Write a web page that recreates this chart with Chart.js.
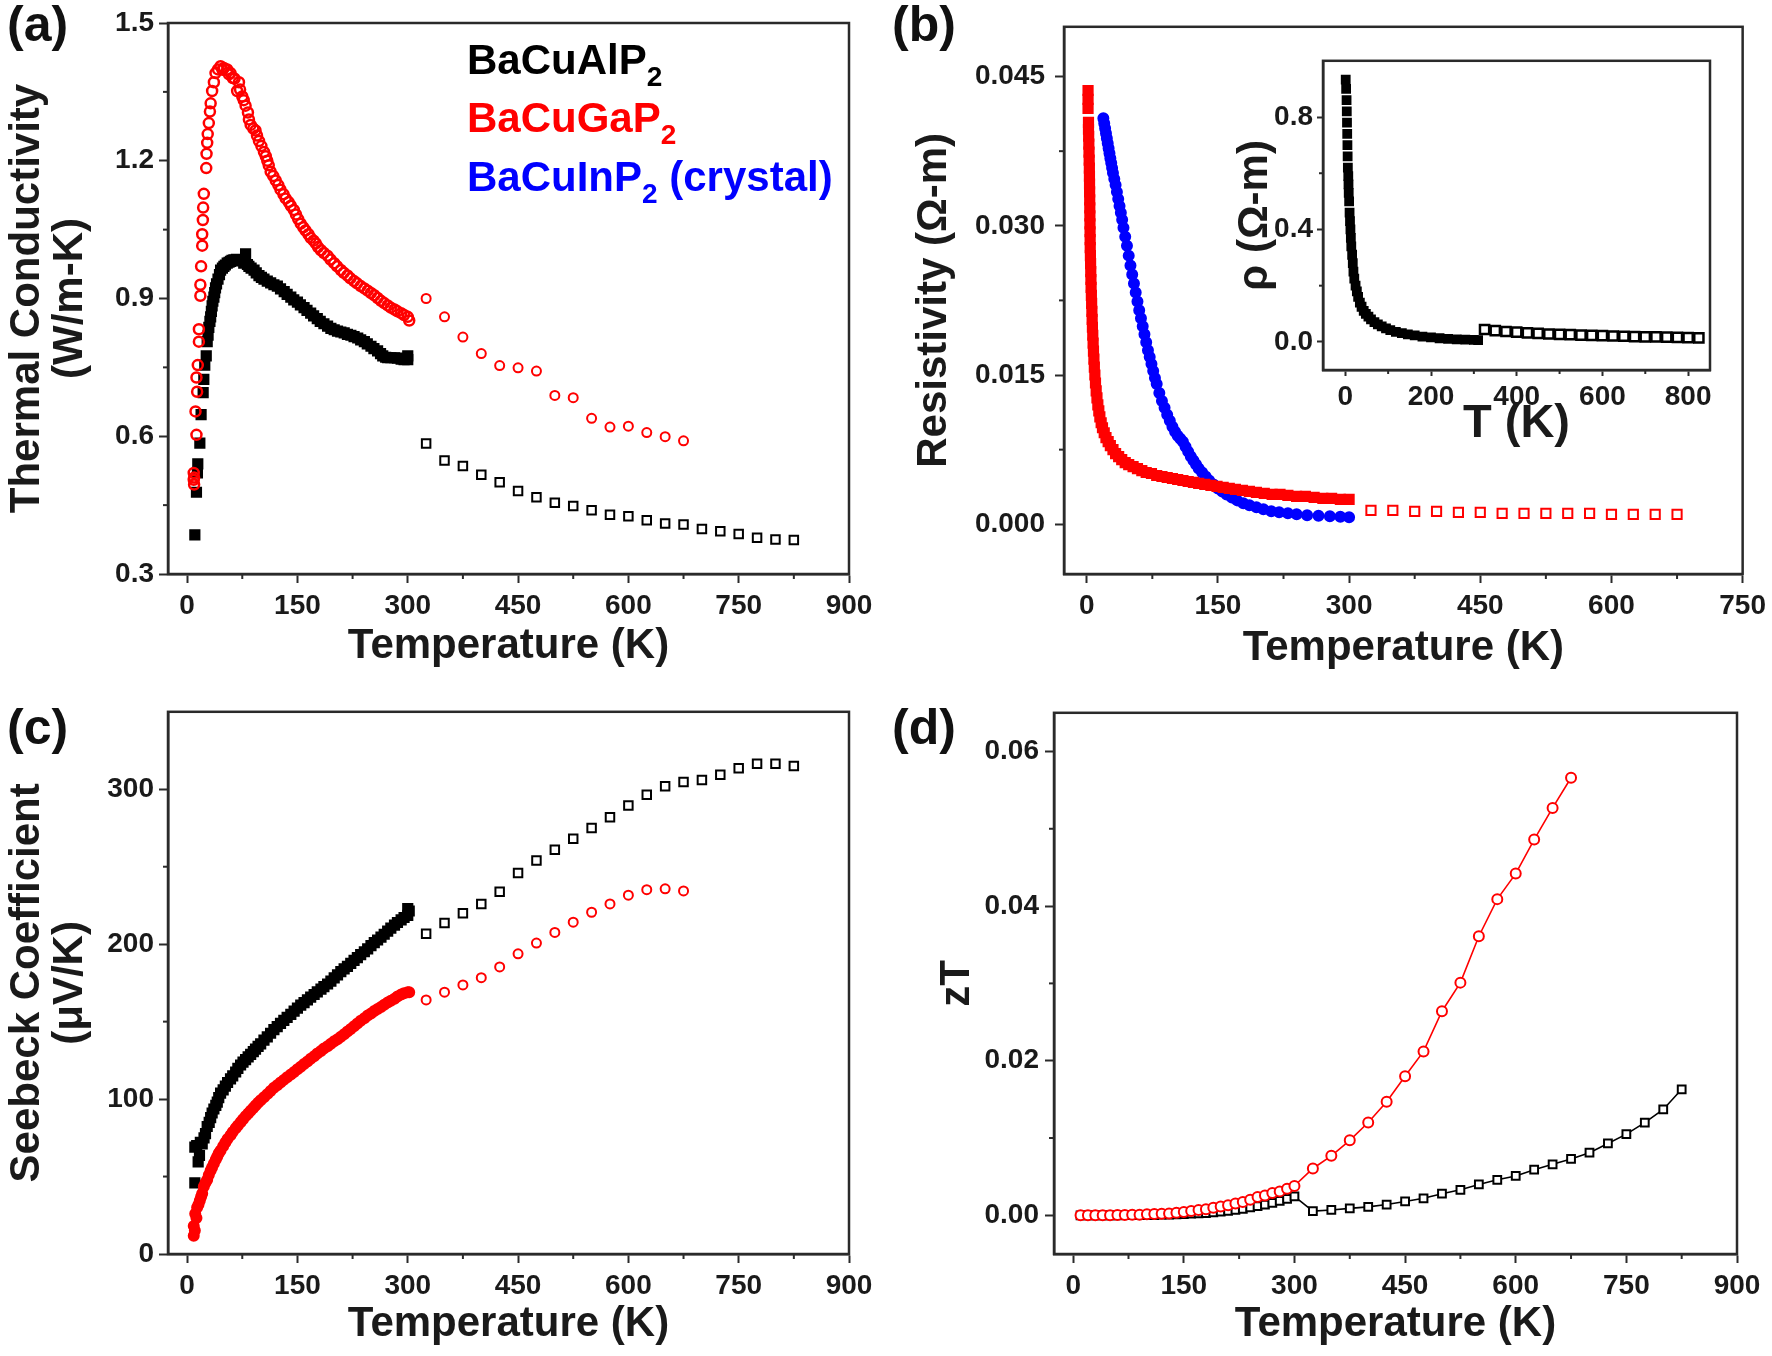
<!DOCTYPE html>
<html><head><meta charset="utf-8">
<script src="https://cdn.jsdelivr.net/npm/chart.js@4.4.0/dist/chart.umd.min.js"></script>
<style>
html,body{margin:0;padding:0;background:#fff;}
body{width:1772px;height:1356px;position:relative;overflow:hidden;font-family:'Liberation Sans',Arial,sans-serif;}
.pc{position:absolute;}
.lab{position:absolute;font-weight:bold;font-size:50px;line-height:50px;color:#111;white-space:nowrap;}
.leg{position:absolute;font-family:'Liberation Sans',Arial,sans-serif;font-weight:bold;font-size:42px;line-height:42px;white-space:nowrap;}
.leg sub{font-size:28px;position:relative;top:12px;vertical-align:baseline;line-height:0;}
</style></head><body>
<div class="pc" style="left:0;top:0;width:880px;height:690px"><canvas id="ca"></canvas></div>
<div class="pc" style="left:880px;top:0;width:892px;height:690px"><canvas id="cb"></canvas></div>
<div class="pc" style="left:1225px;top:40px;width:500px;height:420px"><canvas id="cin"></canvas></div>
<div class="pc" style="left:0;top:690px;width:880px;height:666px"><canvas id="cc"></canvas></div>
<div class="pc" style="left:880px;top:690px;width:892px;height:666px"><canvas id="cd"></canvas></div>
<div class="lab" style="left:7px;top:-1px">(a)</div>
<div class="lab" style="left:892px;top:-1px">(b)</div>
<div class="lab" style="left:7px;top:702px">(c)</div>
<div class="lab" style="left:892px;top:702px">(d)</div>
<div class="leg" style="left:467px;top:39px;color:#000">BaCuAlP<sub>2</sub></div>
<div class="leg" style="left:467px;top:97px;color:#ff0000">BaCuGaP<sub>2</sub></div>
<div class="leg" style="left:467px;top:156px;color:#0000ff">BaCuInP<sub>2</sub> (crystal)</div>
<script>
// ---------------- DATA ----------------
// high-temperature (sparse) temperatures
const tempHiGa = [325,350,375,400,425,450,475,500,525,550,575,600,625,650,675];
const tempHiAl = [325,350,375,400,425,450,475,500,525,550,575,600,625,650,675,700,725,750,775,800,825];

// (a) thermal conductivity, W/m-K
const kappaGaLow = [[9,0.52],[9,0.505],[9.5,0.495],[9.5,0.51],[11.4,0.654],[12.7,0.603],[13.6,0.697],[12.7,0.728],[14.5,0.755],[16,0.806],[16,0.833],[18,0.906],[18,0.93],[19,0.97],[20.5,1.015],[20.5,1.04],[21.4,1.071],[21.8,1.098],[22.7,1.128],[26,1.184],[26.4,1.215],[27.3,1.239],[28,1.258],[29.5,1.282],[31,1.307],[32,1.325],[34,1.352],[36.4,1.371],[38.6,1.391],[42,1.399],[45.5,1.406],[48,1.398],[50,1.402],[54.5,1.399],[57,1.388],[59,1.391],[62,1.38],[64.5,1.379],[68,1.352],[70.5,1.371],[72,1.355],[75,1.34],[77,1.332],[79.5,1.32],[82.7,1.305],[84,1.29],[86.4,1.278],[90,1.27],[93,1.266],[95,1.255],[97.7,1.243],[101,1.232],[104.5,1.219],[107,1.21],[109,1.2],[111,1.19],[113.6,1.176],[117,1.167],[120.5,1.157],[124,1.147],[127,1.137],[131,1.127],[134,1.118],[138,1.11],[141,1.102],[145,1.093],[148,1.083],[151,1.073],[154.5,1.063],[158,1.055],[161,1.048],[165,1.04],[168,1.032],[172,1.026],[175,1.02],[178,1.012],[182,1.005],[186,0.999],[191,0.993],[195,0.985],[200,0.977],[204,0.97],[209,0.962],[213,0.956],[218,0.95],[222,0.944],[227,0.938],[231,0.933],[236,0.927],[241,0.922],[245.5,0.917],[250,0.912],[254.5,0.907],[259,0.901],[263.6,0.895],[268,0.89],[272.7,0.885],[277,0.88],[282,0.876],[286,0.872],[291,0.868],[295,0.864],[300,0.86],[302,0.852]];
const kappaAlLow = [[10.5,0.385],[12.7,0.478],[14,0.52],[14.5,0.54],[17.3,0.585],[19,0.647],[21.8,0.695],[22.7,0.724],[24,0.755],[26,0.775],[27.3,0.806],[28.5,0.82],[29.5,0.837],[31,0.85],[32,0.86],[33,0.872],[34,0.884],[35,0.894],[36.4,0.903],[37.5,0.913],[38.6,0.923],[40,0.932],[42,0.942],[44,0.952],[45.5,0.962],[48,0.966],[50,0.97],[52,0.973],[54.5,0.977],[57,0.979],[59,0.981],[61,0.983],[63.6,0.984],[67,0.985],[70.5,0.984],[74,0.982],[77,0.977],[79.5,0.997],[82,0.974],[84,0.97],[87,0.966],[91,0.962],[94,0.956],[97.7,0.95],[101,0.946],[104.5,0.942],[109,0.938],[113.6,0.934],[118,0.93],[122.7,0.927],[127,0.921],[132,0.915],[136,0.909],[141,0.903],[145,0.897],[150,0.892],[154,0.886],[159,0.88],[163,0.874],[168,0.868],[172,0.862],[177,0.856],[181,0.85],[186,0.845],[191,0.84],[195.5,0.835],[200,0.832],[204.5,0.829],[209,0.827],[213.6,0.825],[218,0.822],[222.7,0.82],[227,0.817],[232,0.814],[236,0.81],[241,0.806],[245,0.801],[250,0.796],[254,0.791],[259,0.786],[263,0.78],[266,0.775],[270,0.772],[272.7,0.771],[277,0.771],[282,0.771],[286,0.77],[291,0.768],[295,0.767],[300,0.767],[300,0.775]];
const kappaGaHi = [0.9,0.86,0.816,0.78,0.754,0.749,0.742,0.689,0.684,0.639,0.62,0.622,0.608,0.599,0.59];
const kappaAlHi = [0.584,0.547,0.535,0.516,0.5,0.481,0.467,0.455,0.448,0.439,0.429,0.426,0.417,0.41,0.408,0.398,0.393,0.387,0.379,0.375,0.374];

// (b) resistivity, Ohm-m
const rhoGaLow = [[1.5,0.0436],[1.5,0.0427],[1.5,0.0418],[2,0.0404],[2,0.0397],[2.2,0.039],[2.4,0.0382],[2.6,0.0374],[2.8,0.0366],[3.0,0.0358],[3.1,0.035],[3.2,0.0342],[3.3,0.0334],[3.4,0.0326],[3.5,0.0318],[3.6,0.031],[3.7,0.0302],[3.8,0.0294],[3.9,0.0286],[4.0,0.0278],[4.2,0.027],[4.4,0.0262],[4.6,0.0254],[4.8,0.0246],[5.0,0.0238],[5.3,0.023],[5.6,0.0222],[5.9,0.0214],[6.2,0.0206],[6.5,0.0198],[6.9,0.019],[7.3,0.0182],[7.7,0.0174],[8.2,0.0166],[8.7,0.0158],[9.3,0.015],[10,0.0142],[10.8,0.0134],[11.7,0.0127],[12.7,0.012],[13.8,0.0114],[15,0.0108],[16.5,0.0102],[18,0.0097],[20,0.0092],[22,0.0087],[24.5,0.0083],[27,0.0079],[30,0.0075],[33,0.0071],[36.5,0.0068],[40,0.0065],[44,0.0062],[48,0.006],[53,0.0058],[58,0.0056],[63,0.0054],[68,0.0052],[74,0.0051],[80,0.0049],[86,0.0048],[92,0.0047],[98,0.0046],[104,0.0045],[110,0.0044],[116,0.0043],[122,0.0042],[128,0.0041],[135,0.004],[142,0.0039],[149,0.0038],[156,0.0037],[163,0.0036],[170,0.0035],[178,0.0034],[186,0.0033],[194,0.0032],[203,0.0031],[212,0.003],[221,0.003],[230,0.0029],[240,0.0028],[250,0.0028],[260,0.0027],[270,0.0026],[280,0.0026],[290,0.0025],[300,0.0025]];
const rhoInLow = [[19,0.0408],[20,0.0403],[21,0.0398],[22,0.0393],[23,0.0388],[24,0.0383],[25,0.0378],[26,0.0373],[27,0.0368],[28,0.0363],[29,0.0358],[30,0.0353],[31.5,0.0347],[33,0.0341],[34.5,0.0334],[36,0.0327],[37.5,0.032],[39,0.0313],[40.5,0.0306],[42,0.0298],[44,0.0289],[46,0.028],[48,0.027],[50,0.026],[52,0.0251],[54,0.0242],[56,0.0233],[58,0.0224],[60,0.0215],[62,0.0207],[64,0.0199],[66,0.0191],[68,0.0183],[70,0.0175],[72,0.0168],[74,0.0161],[76,0.0154],[78,0.0147],[80,0.0141],[83,0.0132],[86,0.0124],[89,0.0117],[92,0.011],[95,0.0104],[98,0.0098],[101,0.0093],[104,0.0089],[107,0.0086],[110,0.0083],[113,0.0078],[116,0.0073],[119,0.0068],[122,0.0064],[125,0.006],[128,0.0056],[132,0.0052],[136,0.0048],[140,0.0044],[145,0.004],[150,0.0036],[155,0.0033],[160,0.003],[166,0.0027],[172,0.0024],[179,0.0021],[186,0.0019],[194,0.0017],[202,0.0015],[211,0.0013],[220,0.0012],[230,0.0011],[240,0.001],[252,0.0009],[265,0.00085],[278,0.0008],[290,0.00075],[300,0.0007]];
const rhoGaHi = [0.0014,0.0014,0.0013,0.0013,0.0012,0.0012,0.0011,0.0011,0.0011,0.0011,0.0011,0.001,0.001,0.001,0.001];
// (b) inset: BaCuAlP2 resistivity
const rhoAlLow = [[1,0.933],[2,0.9],[3,0.86],[3.5,0.82],[4,0.78],[4.5,0.74],[5,0.7],[5.5,0.66],[6,0.62],[7,0.59],[7.5,0.56],[8,0.53],[9,0.5],[10,0.46],[11,0.43],[12,0.4],[13,0.37],[14,0.34],[16,0.31],[17.5,0.28],[19,0.25],[21,0.225],[24,0.2],[27,0.18],[30,0.16],[34,0.14],[38,0.125],[43,0.11],[48,0.1],[54,0.09],[60,0.08],[68,0.07],[76,0.062],[85,0.055],[95,0.048],[105,0.042],[118,0.036],[132,0.031],[146,0.027],[162,0.023],[180,0.019],[200,0.016],[220,0.013],[240,0.011],[260,0.009],[280,0.008],[300,0.007],[310,0.006]];
const rhoAlHi = [0.044,0.04,0.037,0.035,0.032,0.03,0.028,0.027,0.026,0.024,0.023,0.022,0.021,0.02,0.019,0.018,0.018,0.017,0.016,0.015,0.014];

// (c) Seebeck coefficient, uV/K
const seebAlLow = [[10.5,45.9],[15,59.5],[16.8,63.6],[10.5,69],[13,70],[18,72],[20.5,71],[23,75],[25,77.7],[27.3,82.3],[30,85],[32,88],[34,91],[36.4,93.6],[39,96],[41,98],[43,101],[45.5,103.9],[49,106],[52,108.4],[55,110.7],[59,113],[62,115],[66,117.5],[69,119.8],[72.7,122],[76,123.8],[79.5,125.5],[83,127.2],[86.4,128.9],[90,130.6],[93,132.3],[96.5,134],[100,135.7],[104.5,138],[109,140.2],[113.5,142.5],[118,144.8],[122.5,146.8],[127,148.9],[131.5,150.8],[136,152.7],[141,154.7],[145.5,156.8],[150,158.7],[154.5,160.7],[159,162.3],[163.6,164],[168,165.8],[172.7,167.5],[177,169.2],[182,171],[186,172.6],[191,174.3],[195.5,176.2],[200,178.2],[204.5,180.2],[209,182.3],[213.5,184],[218,185.7],[222.5,187.6],[227,189.5],[231.5,191.3],[236,193.2],[241,195.1],[245.5,197],[250,199],[254.5,201],[259,202.7],[263.6,204.5],[268,206.4],[272.7,208.4],[277,210.3],[282,212.3],[286,214],[291,215.7],[295,217.2],[300,218.6],[302,221.4],[300,223]];
const seebGaLow = [[9,11.8],[10.5,15.2],[9,18],[12.7,23.2],[13.6,30],[11,26],[15.5,32],[17.3,34.5],[19,37],[20.5,39],[22.7,43.6],[25,46],[27.3,48],[29.5,51],[32,53.9],[34,56],[36.4,58.4],[39,61],[41,63],[43,65],[45.5,66.8],[49,69.5],[52,72],[55,74.3],[59,76.6],[62,78.8],[66,81.1],[69,83],[72.7,85],[76,87],[79.5,89],[83,90.7],[86.4,92.5],[90,94.2],[93,95.9],[96.5,97.6],[100,99.3],[104.5,101.2],[109,103.2],[113.5,105.2],[118,107.3],[122.5,109],[127,110.7],[131.5,112.4],[136,114.1],[141,115.8],[145.5,117.5],[150,119.2],[154.5,120.9],[159,122.6],[163.6,124.3],[168,126],[172.7,127.7],[177,129.4],[182,131.1],[186,132.6],[191,134.1],[195.5,135.7],[200,137.3],[204.5,138.7],[209,140.2],[213.5,141.9],[218,143.6],[222.5,145.3],[227,147],[231.5,148.8],[236,150.5],[241,152.2],[245.5,153.9],[250,155.3],[254.5,156.8],[259,158.2],[263.6,159.5],[268,160.9],[272.7,162.3],[277,163.5],[282,164.8],[286,166.2],[291,167.5],[295,168.3],[300,169],[302,169]];
const seebAlHi = [206.8,213.7,220,226,233.8,246,254,261,268,275,282,289.5,296.4,302,304.7,306,309.3,313.5,316.5,316.5,315];
const seebGaHi = [164,169,173.7,178.4,185.3,193.8,200.7,207.6,214.2,220.6,226,231.6,235.2,235.7,234.4];

// (d) zT
const tempLowZT = [10,20,30,40,50,60,70,80,90,100,110,120,130,140,150,160,170,180,190,200,210,220,230,240,250,260,270,280,290,300];
const ztGaLow = [0,0,0,0.00001,0.00002,0.00004,0.00004,0.00008,0.00008,0.00013,0.00017,0.00021,0.00025,0.00034,0.00042,0.00055,0.00068,0.0008,0.00097,0.00114,0.00131,0.00153,0.00174,0.00203,0.00237,0.00258,0.00288,0.0031,0.00343,0.00381];
const ztAlLow = [0,0,0,0,0.00001,0.00001,0.00002,0.00002,0.00002,0.00004,0.00004,0.00008,0.00008,0.00013,0.00017,0.00021,0.00025,0.0003,0.00038,0.00047,0.00059,0.00072,0.00085,0.00102,0.00119,0.0014,0.00161,0.00186,0.00212,0.00246];
const ztGaHi = [0.00606,0.0077,0.0097,0.012,0.0147,0.018,0.0212,0.0264,0.0301,0.0361,0.0409,0.0442,0.0486,0.0527,0.0566];
const ztAlHi = [0.00055,0.0007,0.0009,0.0011,0.0014,0.0018,0.0022,0.0028,0.0033,0.004,0.0046,0.0051,0.0059,0.0066,0.0073,0.0081,0.0093,0.0105,0.012,0.0137,0.0163];

// tick labels
const tickT900 = [0,150,300,450,600,750,900];
const tickT750 = [0,150,300,450,600,750];
const minorT900 = [75,225,375,525,675,825];
const minorT750 = [75,225,375,525,675];
const tickKappa = [0.3,0.6,0.9,1.2,1.5];
const minorKappa = [0.45,0.75,1.05,1.35];
const tickRho = [0,0.015,0.03,0.045];
const minorRho = [0.0075,0.0225,0.0375];
const tickSeeb = [0,100,200,300];
const minorSeeb = [50,150,250];
const tickZT = [0,0.02,0.04,0.06];
const minorZT = [0.01,0.03,0.05];
const tickInsetT = [0,200,400,600,800];
const minorInsetT = [100,300,500,700];
const tickInsetRho = [0,0.4,0.8];
const minorInsetRho = [0.2,0.6];

// ---------------- HELPERS ----------------
const RED = '#ff0000', BLUE = '#0000ff', BLACK = '#000000';
const AX = '#2a2a2a';
const pairs = a => a.map(p => ({x: p[0], y: p[1]}));
const zip = (xs, ys) => xs.map((x, i) => ({x, y: ys[i]}));

function ds(data, color, style, r, bw, fill, line) {
  return {data, showLine: !!line, borderColor: color, borderWidth: line ? 1.6 : 0,
    pointStyle: style, pointRadius: r, pointBorderWidth: bw, pointBorderColor: color,
    pointBackgroundColor: fill || 'rgba(0,0,0,0)', pointHoverRadius: r};
}

const minorPlugin = {
  id: 'minorTicks',
  afterDraw(chart, args, opts) {
    const ctx = chart.ctx; ctx.save();
    ctx.strokeStyle = AX; ctx.lineWidth = 2;
    const len = opts.len || 5;
    (opts.x || []).forEach(v => {
      const s = chart.scales.x, p = s.getPixelForValue(v);
      ctx.beginPath(); ctx.moveTo(p, s.top); ctx.lineTo(p, s.top + len); ctx.stroke();
    });
    (opts.y || []).forEach(v => {
      const s = chart.scales.y, p = s.getPixelForValue(v);
      ctx.beginPath(); ctx.moveTo(s.right, p); ctx.lineTo(s.right - len, p); ctx.stroke();
    });
    ctx.restore();
  }
};
const framePlugin = {
  id: 'frame',
  beforeDraw(chart, args, opts) {
    if (opts.fill) { const a = chart.chartArea, c = chart.ctx; c.save(); c.fillStyle = opts.fill; c.fillRect(a.left, a.top, a.right - a.left, a.bottom - a.top); c.restore(); }
  },
  afterDraw(chart) {
    const a = chart.chartArea, c = chart.ctx; c.save();
    c.strokeStyle = AX; c.lineWidth = 2.5;
    c.strokeRect(a.left, a.top, a.right - a.left, a.bottom - a.top);
    c.restore();
  }
};
Chart.register(minorPlugin, framePlugin);

const TICKFONT = "'Liberation Sans',Arial,sans-serif";
const TITLEFONT = "'Liberation Sans',Arial,sans-serif";

function axis(a, isX) {
  return {
    type: 'linear', position: isX ? 'bottom' : 'left', min: a.min, max: a.max,
    afterBuildTicks: s => { s.ticks = a.ticks.map(v => ({value: v})); },
    afterFit: s => { if (isX) s.height = a.size; else s.width = a.size; },
    ticks: {font: {family: TICKFONT, weight: 'bold', size: a.fs || 28}, color: '#1a1a1a',
      padding: a.tickPad, maxRotation: 0, autoSkip: false, callback: v => a.fmt(v)},
    grid: {drawOnChartArea: false, drawTicks: true, tickLength: a.tl || 9, tickWidth: 2, tickColor: AX},
    border: {display: true, color: AX, width: 2.5},
    title: {display: true, text: a.title, color: '#1a1a1a',
      font: {family: TITLEFONT, weight: 'bold', size: a.tfs || 42, lineHeight: a.tlh || 1.03},
      padding: isX ? {top: 0, bottom: a.titlePad} : {top: a.titlePad, bottom: 0}}
  };
}

function make(id, cfg) {
  return new Chart(document.getElementById(id), {
    type: 'scatter',
    data: {datasets: cfg.datasets},
    options: {
      responsive: true, maintainAspectRatio: false, devicePixelRatio: 1, animation: false,
      layout: {padding: cfg.pad},
      events: [],
      plugins: {legend: {display: false}, tooltip: {enabled: false},
        minorTicks: cfg.minor, frame: cfg.frame || {}},
      scales: {x: axis(cfg.x, true), y: axis(cfg.y, false)}
    }
  });
}

const fmtInt = v => String(Math.round(v));

// (a)
make('ca', {
  pad: {left: 0, top: 23, right: 31, bottom: 0},
  minor: {x: minorT900, y: minorKappa},
  datasets: [
    ds(pairs(kappaGaLow), RED, 'circle', 5, 2.5),
    ds(zip(tempHiGa, kappaGaHi), RED, 'circle', 4.5, 2),
    ds(pairs(kappaAlLow), BLACK, 'rect', 6.5, 2, BLACK),
    ds(zip(tempHiAl, kappaAlHi), BLACK, 'rect', 6, 2)
  ],
  x: {min: -26, max: 900, ticks: tickT900, fmt: fmtInt, size: 116, tickPad: 6, title: 'Temperature (K)', titlePad: 22},
  y: {min: 0.3, max: 1.5, ticks: tickKappa, fmt: v => v.toFixed(1), size: 168, tickPad: 5, title: ['Thermal Conductivity', '(W/m-K)'], titlePad: 6}
});

// (b)
make('cb', {
  pad: {left: 0, top: 23, right: 28, bottom: 0},
  minor: {x: minorT750, y: minorRho},
  datasets: [
    ds(pairs(rhoGaLow), RED, 'rect', 6.5, 2, RED),
    ds(zip(tempHiGa, rhoGaHi), RED, 'rect', 6.5, 2),
    ds(pairs(rhoInLow), BLUE, 'circle', 5, 2, BLUE)
  ],
  x: {min: -26, max: 750, ticks: tickT750, fmt: fmtInt, size: 116, tickPad: 6, title: 'Temperature (K)', titlePad: 20},
  y: {min: -0.005, max: 0.05, ticks: tickRho, fmt: v => v.toFixed(3), size: 184, tickPad: 10, title: 'Resistivity (\u03a9-m)', titlePad: 33}
});

// (b) inset
make('cin', {
  pad: {left: 0, top: 17, right: 15, bottom: 0},
  minor: {x: minorInsetT, y: minorInsetRho, len: 4},
  frame: {fill: '#ffffff'},
  datasets: [
    ds(pairs(rhoAlLow), BLACK, 'rect', 5.5, 2, BLACK),
    ds(zip(tempHiAl, rhoAlHi), BLACK, 'rect', 6.5, 2.5)
  ],
  x: {min: -52, max: 851, ticks: tickInsetT, fmt: fmtInt, size: 90, tl: 6, fs: 28, tickPad: 4, title: 'T (K)', tfs: 47, tlh: 1.0, titlePad: 12},
  y: {min: -0.1, max: 1.0, ticks: tickInsetRho, fmt: v => v.toFixed(1), size: 98, tl: 6, fs: 28, tickPad: 4, title: '\u03c1 (\u03a9-m)', tfs: 42, tlh: 1.0, titlePad: 9}
});

// (c)
make('cc', {
  pad: {left: 0, top: 16, right: 31, bottom: 0},
  minor: {x: minorT900, y: minorSeeb},
  datasets: [
    ds(pairs(seebGaLow), RED, 'circle', 5, 2, RED),
    ds(zip(tempHiGa, seebGaHi), RED, 'circle', 4.5, 2),
    ds(pairs(seebAlLow), BLACK, 'rect', 6.5, 2, BLACK),
    ds(zip(tempHiAl, seebAlHi), BLACK, 'rect', 6, 2)
  ],
  x: {min: -26, max: 900, ticks: tickT900, fmt: fmtInt, size: 102, tickPad: 6, title: 'Temperature (K)', titlePad: 10},
  y: {min: 0, max: 350, ticks: tickSeeb, fmt: fmtInt, size: 168, tickPad: 5, title: ['Seebeck Coefficient', '(\u03bcV/K)'], titlePad: 6}
});

// (d)
make('cd', {
  pad: {left: 0, top: 16, right: 35, bottom: 0},
  minor: {x: minorT900, y: minorZT},
  datasets: [
    ds(zip(tempLowZT.concat(tempHiGa), ztGaLow.concat(ztGaHi)), RED, 'circle', 5, 2, '#ffffff', true),
    ds(zip(tempLowZT.concat(tempHiAl), ztAlLow.concat(ztAlHi)), BLACK, 'rect', 5.5, 2, '#ffffff', true)
  ],
  x: {min: -26, max: 900, ticks: tickT900, fmt: fmtInt, size: 102, tickPad: 6, title: 'Temperature (K)', titlePad: 10},
  y: {min: -0.005, max: 0.065, ticks: tickZT, fmt: v => v.toFixed(2), size: 174, tickPad: 6, title: 'zT', titlePad: 56}
});
</script>
</body></html>
